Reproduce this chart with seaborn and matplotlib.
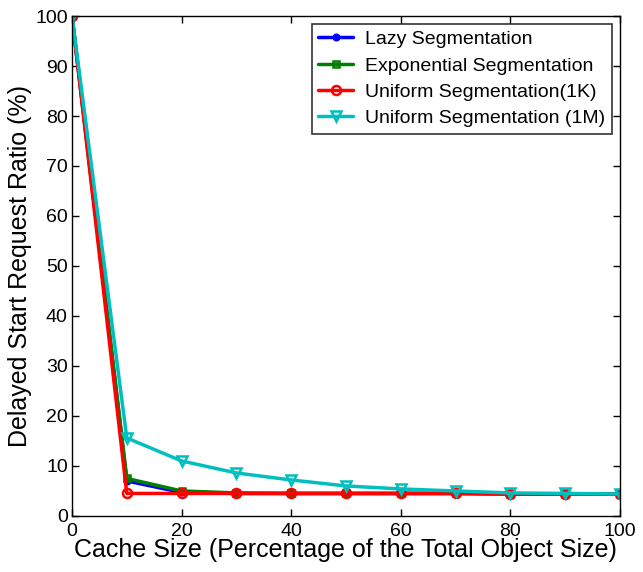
import numpy as np
import pandas as pd
import matplotlib
matplotlib.use("Agg")
import matplotlib.pyplot as plt
import seaborn as sns

cache_size = [0, 10, 20, 30, 40, 50, 60, 70, 80, 90, 100]
lazy = [100, 7.0, 4.7, 4.5, 4.5, 4.5, 4.5, 4.5, 4.4, 4.4, 4.4]
exponential = [100, 7.5, 5.0, 4.6, 4.5, 4.5, 4.5, 4.5, 4.4, 4.4, 4.4]
uniform_1k = [100, 4.5, 4.5, 4.5, 4.5, 4.5, 4.5, 4.5, 4.4, 4.4, 4.4]
uniform_1m = [100, 15.6, 11.0, 8.6, 7.2, 6.0, 5.4, 5.0, 4.6, 4.5, 4.4]

series_names = ["Lazy Segmentation", "Exponential Segmentation",
                "Uniform Segmentation(1K)", "Uniform Segmentation (1M)"]
series_vals = [lazy, exponential, uniform_1k, uniform_1m]

df = pd.DataFrame({
    "x": cache_size * 4,
    "y": sum(series_vals, []),
    "series": sum([[n] * len(cache_size) for n in series_names], []),
})

sns.set_theme(style="white")
plt.rcParams["font.family"] = ["Liberation Sans", "DejaVu Sans"]
plt.rcParams["xtick.direction"] = "in"
plt.rcParams["ytick.direction"] = "in"
plt.rcParams["text.color"] = "black"
plt.rcParams["axes.labelcolor"] = "black"
plt.rcParams["xtick.color"] = "black"
plt.rcParams["ytick.color"] = "black"

fig = plt.figure(figsize=(6.43, 5.72), dpi=100)
ax = fig.add_axes([0.112, 0.098, 0.852, 0.874])

colors = ["#0000ff", "#008000", "#ff0000", "#00bfbf"]
markers = ["o", "s", "o", "v"]
msizes = [4, 5, 6.5, 7.5]
mfcs = ["#0000ff", "none", "none", "none"]

for name, vals, c, m, ms, mfc in zip(series_names, series_vals, colors, markers, msizes, mfcs):
    sub = df[df["series"] == name]
    sns.lineplot(data=sub, x="x", y="y", ax=ax, color=c, marker=m,
                 markersize=ms, markerfacecolor=mfc, markeredgecolor=c,
                 markeredgewidth=1.8, linewidth=2.5, label=name)

ax.set_xlim(0, 100)
ax.set_ylim(0, 100)
ax.set_xticks(range(0, 101, 20))
ax.set_yticks(range(0, 101, 10))
ax.tick_params(axis="both", labelsize=14, length=5, width=1, color="black",
               labelcolor="black", top=True, right=True, bottom=True, left=True)
ax.tick_params(axis="x", pad=5)
ax.tick_params(axis="y", pad=3)
for s in ax.spines.values():
    s.set_color("black")
    s.set_linewidth(1)
ax.set_xlabel("Cache Size (Percentage of the Total Object Size)", fontsize=18,
              labelpad=-1, color="black")
ax.set_ylabel("Delayed Start Request Ratio (%)", fontsize=18, labelpad=2, color="black")

leg = ax.legend(loc="upper right", fontsize=14, frameon=True, fancybox=False,
                edgecolor="black", borderpad=0.35, labelspacing=0.45,
                handlelength=1.8, handletextpad=0.6, borderaxespad=0.4)
leg.get_frame().set_linewidth(1.2)
for t in leg.get_texts():
    t.set_color("black")

fig.savefig("out.png", dpi=100)
